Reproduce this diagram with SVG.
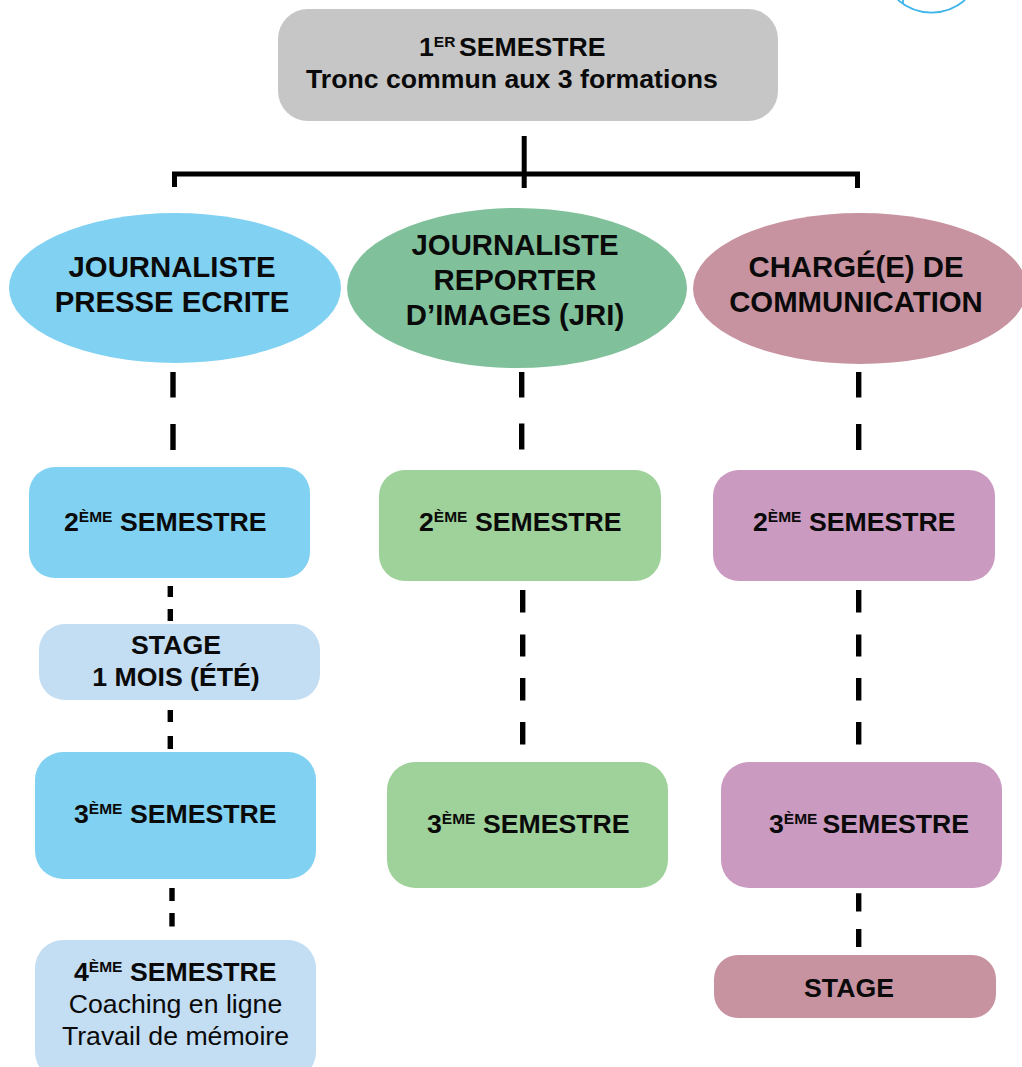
<svg xmlns="http://www.w3.org/2000/svg" width="1022" height="1067" viewBox="0 0 1022 1067">
<style>
text{font-family:"Liberation Sans",Arial,sans-serif;font-weight:700;font-size:26.67px;fill:#0a0a0a}
.t{font-size:29.33px}
.r{font-weight:400}
.sup{font-size:15.5px}
.solid{fill:none;stroke:#000;stroke-width:5}
.dash{fill:none;stroke:#000;stroke-width:5.4}
.m{text-anchor:middle}
</style>
<rect width="1022" height="1067" fill="#fff"/>
<path d="M898 0A51 51 0 0 0 965 0" fill="none" stroke="#3db5e8" stroke-width="1.8"/>
<path d="M903 0L903 3" fill="none" stroke="#3db5e8" stroke-width="1.8"/>
<g id="connectors">
<path class="solid" d="M174.500 187V174H857.500V188M524.200 136V188"/>
<path class="dash" d="M173 372V397.500M173 424V450M521.700 372V397.500M521.700 423.500V449.500M858.700 372V397.500M858.700 424V450"/>
<path class="dash" d="M170.300 586V597M170.300 609V621M170.300 710V722M170.300 736V749M172 888V901M172 913V926.500"/>
<path class="dash" d="M522.700 590V612.500M522.700 634.500V656.500M522.700 678V700.500M522.700 722V744.500M858.700 590V612.500M858.700 634.500V656.500M858.700 678V700.500M858.700 722V744.500M858.700 893.300V911.500M858.700 929V947"/>
</g>
<g id="n-s1"><rect x="278" y="9" width="500" height="112" rx="30" fill="#c6c6c6"/>
<text x="419" y="56">1<tspan class="sup" dy="-9">ER</tspan><tspan dy="9" dx="3.500">SEMESTRE</tspan></text>
<text x="306" y="88">Tronc commun aux 3 formations</text></g>
<g id="n-jpe"><ellipse cx="175" cy="288" rx="166" ry="75" fill="#80d1f2"/>
<text class="t m" x="172" y="276.700">JOURNALISTE</text><text class="t m" x="172" y="311.700">PRESSE ECRITE</text></g>
<g id="n-jri"><ellipse cx="517" cy="288" rx="170" ry="80" fill="#80c19b"/>
<text class="t m" x="515" y="254.700">JOURNALISTE</text><text class="t m" x="515" y="289.700">REPORTER</text><text class="t m" x="515" y="324.700">D’IMAGES (JRI)</text></g>
<g id="n-com"><ellipse cx="860" cy="288.500" rx="167" ry="75.500" fill="#c893a1"/>
<text class="t m" x="856" y="276.700">CHARGÉ(E) DE</text><text class="t m" x="856" y="311.700">COMMUNICATION</text></g>
<g id="n-a2"><rect x="29" y="467" width="281" height="111" rx="26" fill="#80d1f2"/>
<text x="64" y="531">2<tspan class="sup" dy="-9">ÈME</tspan><tspan dy="9" dx="7.500">SEMESTRE</tspan></text></g>
<g id="n-b2"><rect x="379" y="470" width="282" height="111" rx="26" fill="#9fd29a"/>
<text x="419" y="531">2<tspan class="sup" dy="-9">ÈME</tspan><tspan dy="9" dx="7.500">SEMESTRE</tspan></text></g>
<g id="n-c2"><rect x="713" y="470" width="282" height="111" rx="26" fill="#ca9ac1"/>
<text x="753" y="531">2<tspan class="sup" dy="-9">ÈME</tspan><tspan dy="9" dx="7.500">SEMESTRE</tspan></text></g>
<g id="n-a-stage"><rect x="39" y="624" width="281" height="76" rx="26" fill="#c3ddf3"/>
<text class="m" x="176" y="654">STAGE</text><text class="m" x="176" y="686">1 MOIS (ÉTÉ)</text></g>
<g id="n-a3"><rect x="35" y="752" width="281" height="127" rx="28" fill="#80d1f2"/>
<text x="74" y="823">3<tspan class="sup" dy="-9">ÈME</tspan><tspan dy="9" dx="7.500">SEMESTRE</tspan></text></g>
<g id="n-b3"><rect x="387" y="762" width="281" height="126" rx="28" fill="#9fd29a"/>
<text x="427" y="833">3<tspan class="sup" dy="-9">ÈME</tspan><tspan dy="9" dx="7.500">SEMESTRE</tspan></text></g>
<g id="n-c3"><rect x="721" y="762" width="281" height="126" rx="28" fill="#ca9ac1"/>
<text x="769" y="833">3<tspan class="sup" dy="-9">ÈME</tspan><tspan dy="9" dx="5">SEMESTRE</tspan></text></g>
<g id="n-a4"><rect x="35" y="940" width="281" height="140" rx="28" fill="#c3ddf3"/>
<text x="74" y="981">4<tspan class="sup" dy="-9">ÈME</tspan><tspan dy="9" dx="7.500">SEMESTRE</tspan></text>
<text class="m r" x="175.500" y="1013">Coaching en ligne</text><text class="m r" x="175.500" y="1045">Travail de mémoire</text></g>
<g id="n-c-stage"><rect x="714" y="955" width="282" height="63" rx="24" fill="#c893a1"/>
<text class="m" x="849" y="997">STAGE</text></g>
</svg>
